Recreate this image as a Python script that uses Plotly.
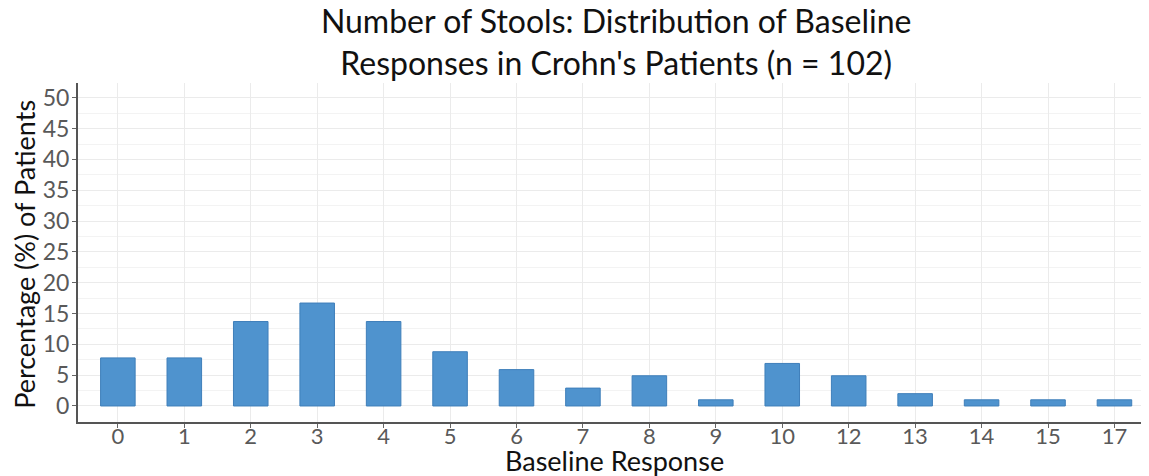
import plotly.graph_objects as go

categories = ["0", "1", "2", "3", "4", "5", "6", "7", "8", "9", "10", "12", "13", "14", "15", "17"]
counts = [8, 8, 14, 17, 14, 9, 6, 3, 5, 1, 7, 5, 2, 1, 1, 1]
n_total = 102
percentages = [round(c / n_total * 100, 1) for c in counts]
y_ticks = [0, 5, 10, 15, 20, 25, 30, 35, 40, 45, 50]

fig = go.Figure()
fig.add_trace(go.Bar(
    x=categories, y=percentages,
    width=0.52,
    marker=dict(color="#4F93CE", line=dict(color="#3F7FBA", width=1)),
))

font = "Lato, 'Open Sans', sans-serif"
fig.update_layout(
    width=1141, height=468,
    margin=dict(l=70, r=0, t=75, b=54, autoexpand=False),
    paper_bgcolor="white", plot_bgcolor="white",
    showlegend=False,
    title=dict(
        text="Number of Stools: Distribution of Baseline<br>Responses in Crohn's Patients (n = 102)",
        x=0.533, xanchor="center", yref="paper", y=1, yanchor="bottom",
        pad=dict(b=50),
        font=dict(family=font, size=32, color="#111111"),
    ),
    xaxis=dict(
        type="category", automargin=False,
        range=[-0.6, 15.52],
        showline=True, linecolor="#555555", linewidth=2,
        ticks="outside", ticklen=4, tickcolor="#666666",
        ticklabelstandoff=-10,
        showgrid=True, gridcolor="#EBEBEB", gridwidth=1,
        tickfont=dict(family=font, size=22, color="#595959"),
    ),
    yaxis=dict(
        automargin=False,
        range=[-2.6, 52.4],
        tickvals=y_ticks,
        showline=True, linecolor="#555555", linewidth=2, mirror=True,
        ticks="outside", ticklen=4, tickcolor="#666666",
        ticklabelstandoff=-2,
        showgrid=True, gridcolor="#EBEBEB", gridwidth=1,
        minor=dict(dtick=2.5, showgrid=True, gridcolor="#F3F3F3"),
        zeroline=False,
        tickfont=dict(family=font, size=23, color="#595959"),
    ),
    bargap=0.48,
    annotations=[
        dict(text="Baseline Response", xref="paper", yref="paper",
             x=0.501, y=-0.115, xanchor="center", yanchor="middle", showarrow=False,
             font=dict(family=font, size=27, color="#111111")),
        dict(text="Percentage (%) of Patients", xref="paper", yref="paper",
             x=-0.0495, y=0.496, xanchor="center", yanchor="middle", textangle=-90,
             showarrow=False, font=dict(family=font, size=27, color="#111111")),
    ],
)

fig.write_html("out.html")
